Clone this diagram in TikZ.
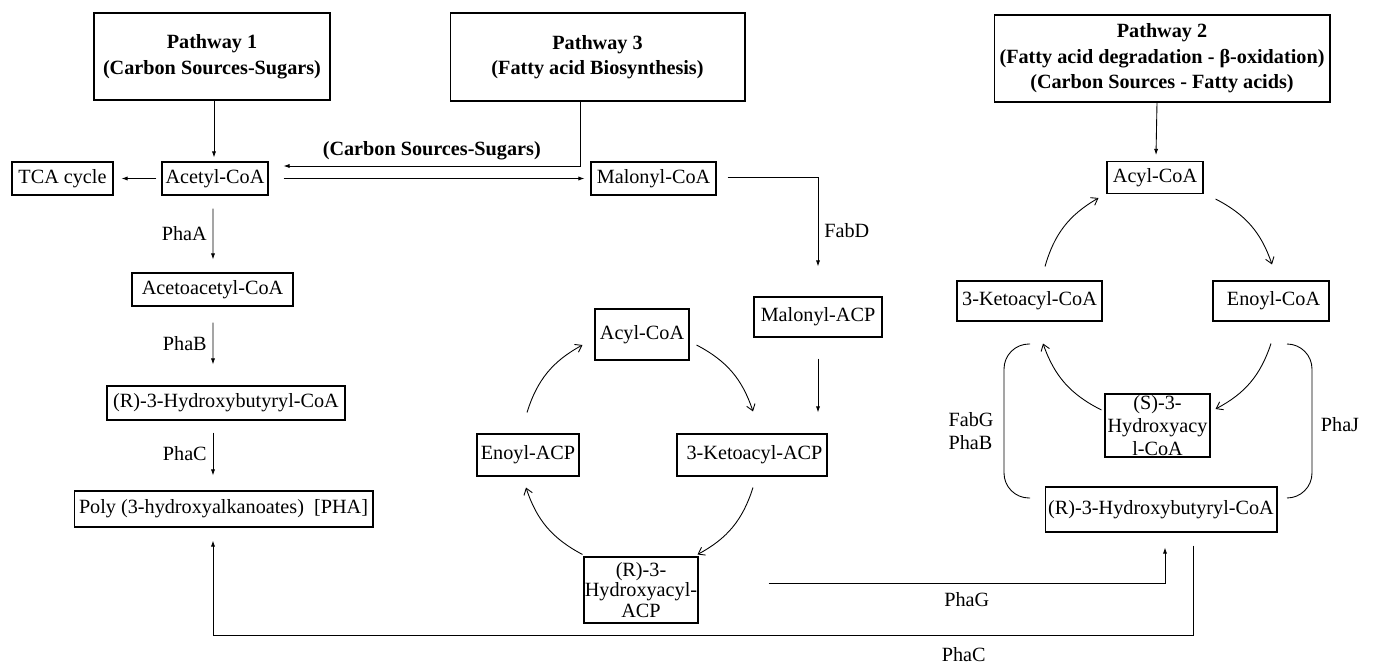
\documentclass[tikz,border=0pt]{standalone}
\usepackage{fontspec}
\setmainfont{Liberation Serif}
\usetikzlibrary{arrows.meta,calc}

\newcommand{\molfont}{\fontsize{11.5}{13}\selectfont}

\begin{document}
\begin{tikzpicture}[x=0.02cm,y=-0.02cm,
    every node/.style={font=\molfont},
    mol/.style={draw, line width=0.6pt, inner sep=0pt, align=center},
    head/.style={mol, font=\fontsize{11.5}{14.5}\selectfont\bfseries},
    flow/.style={line width=0.5pt, -{Latex[length=3.5pt,width=2.4pt]}},
    cyc/.style={line width=0.5pt, -{Straight Barb[length=3.5pt,width=5pt]}, bend left=22},
    curl/.style={line width=0.5pt, rounded corners=0.5cm}]
\useasboundingbox (0,0) rectangle (1373,666);

    % pathway headers
    \node[head, minimum width=4.72cm, minimum height=1.74cm] (pw1) at (212,56.5)
        {Pathway 1\\(Carbon Sources-Sugars)};
    \node[head, minimum width=5.9cm, minimum height=1.76cm] (pw3) at (597.5,57)
        {Pathway 3\\(Fatty acid Biosynthesis)};
    \node[head, minimum width=6.72cm, minimum height=1.74cm] (pw2) at (1162,58.5)
        {Pathway 2\\(Fatty acid degradation - β-oxidation)\\(Carbon Sources - Fatty acids)};

    % pathway 1
    \node[mol, minimum width=2.02cm, minimum height=0.66cm] (tca) at (62.5,178.5) {TCA cycle};
    \node[mol, minimum width=2.12cm, minimum height=0.66cm] (acetyl) at (215,178.5) {Acetyl-CoA};
    \node[mol, minimum width=3.22cm, minimum height=0.66cm] (aceto) at (212.5,289.5) {Acetoacetyl-CoA};
    \node[mol, minimum width=4.76cm, minimum height=0.68cm] (rhbL) at (226,403) {(R)-3-Hydroxybutyryl-CoA};
    \node[mol, minimum width=5.98cm, minimum height=0.72cm] (poly) at (223.5,509)
        {Poly (3-hydroxyalkanoates)\ \ [PHA]};

    % pathway 3
    \node[mol, minimum width=2.5cm, minimum height=0.66cm] (malcoa) at (653.5,178.5) {Malonyl-CoA};
    \node[mol, minimum width=2.56cm, minimum height=0.8cm] (malacp) at (818,317) {Malonyl-ACP};
    \node[mol, minimum width=1.88cm, minimum height=1.02cm] (acylM) at (642,334.5) {Acyl-CoA};
    \node[mol, minimum width=2.04cm, minimum height=0.84cm] (enoylacp) at (528,455) {Enoyl-ACP};
    \node[mol, minimum width=3.0cm, minimum height=0.84cm] (ketoacp) at (752,455) {\ 3-Ketoacyl-ACP};
    \node[mol, minimum width=2.28cm, minimum height=1.32cm, font=\fontsize{11.5}{11.8}\selectfont]
        (rhaacp) at (641,590) {(R)-3-\\Hydroxyacyl-\\ACP};

    % pathway 2
    \node[mol, minimum width=1.92cm, minimum height=0.64cm] (acylR) at (1155,177.5) {Acyl-CoA};
    \node[mol, minimum width=2.9cm, minimum height=0.8cm] (ketocoa) at (1029.5,301) {3-Ketoacyl-CoA};
    \node[mol, minimum width=2.32cm, minimum height=0.8cm] (enoylcoa) at (1271,301) {\ Enoyl-CoA};
    \node[mol, minimum width=2.1cm, minimum height=1.26cm, font=\fontsize{11.5}{13.2}\selectfont]
        (shacoa) at (1157.5,425.5) {(S)-3-\\Hydroxyacy\\l-CoA};
    \node[mol, minimum width=4.64cm, minimum height=0.9cm] (rhbR) at (1161,509.5) {(R)-3-Hydroxybutyryl-CoA};

    % straight steps
    \draw[flow] ($(pw1.south)+(2,0)$) -- ($(acetyl.north)+(-1,-4)$);
    \draw[flow] ($(acetyl.west)+(-5,0)$) -- ($(tca.east)+(8,0)$);
    \draw[flow] ($(pw3.south)+(-17.5,0)$) |- ($(acetyl.east)+(15,-12.5)$)
        node[pos=0.75, above, font=\fontsize{11.5}{13}\selectfont\bfseries] {(Carbon Sources-Sugars)};
    \draw[flow] ($(acetyl.east)+(15,0)$) -- ($(malcoa.west)+(-6,0)$);
    \draw[flow] ($(acetyl.south)+(-2,13)$) -- ($(aceto.north)+(0.5,-13)$) node[midway, left] {PhaA};
    \draw[flow] ($(aceto.south)+(0.5,16)$) -- ($(rhbL.north)+(-13,-21)$) node[midway, left] {PhaB};
    \draw[flow] ($(rhbL.south)+(-13,12)$) -- ($(poly.north)+(-10.5,-15)$) node[midway, left] {PhaC};
    \draw[flow] ($(malcoa.east)+(11,-1.5)$) -| ($(malacp.north)+(0,-30)$) node[pos=0.8, right] {FabD};
    \draw[flow] ($(malacp.south)+(0,21)$) -- ($(ketoacp.north)+(66,-21)$);
    \draw[flow] ($(pw2.south)+(-5,0)$) -- ($(acylR.north)+(1,-6)$);

    % fatty acid synthesis cycle
    \draw[cyc] ($(acylM.east)+(7,10.5)$) to ($(ketoacp.north)+(1,-22)$);
    \draw[cyc] ($(ketoacp.south)+(1,11)$) to ($(rhaacp.north east)+(-1,-2)$);
    \draw[cyc] ($(rhaacp.north west)+(-1,-2)$) to ($(enoylacp.south)+(-2,11)$);
    \draw[cyc] ($(enoylacp.north)+(-1,-21)$) to ($(acylM.west)+(-12,10.5)$);

    % beta-oxidation cycle
    \draw[cyc] ($(ketocoa.north)+(15.5,-14)$) to ($(acylR.west)+(-8,20.5)$);
    \draw[cyc] ($(acylR.east)+(12,21.5)$) to ($(enoylcoa.north)+(1,-16)$);
    \draw[cyc] ($(enoylcoa.south)+(0,22)$) to ($(shacoa.east)+(5,-16.5)$);
    \draw[cyc] ($(shacoa.west)+(-3,-15.5)$) to ($(ketocoa.south)+(13.5,22)$);

    % side routes to (R)-3-hydroxybutyryl-CoA
    \draw[curl] (1030,344) -- (1004,344) -- (1004,498) -- (1030,498);
    \draw[curl] (1287,344) -- (1312,344) -- (1312,498) -- (1287,498);
    \node[align=left] (fabg) at (971,431) {FabG\\PhaB};
    \node (phaj) at (1340,425) {PhaJ};

    % PhaG and PhaC links
    \draw[flow] ($(rhaacp.east)+(70,-7)$) -| ($(rhbR.south)+(4,15)$)
        node[pos=0.25, below, yshift=-2pt] {PhaG};
    \draw[flow] ($(rhbR.south)+(32,13)$) -- ++(0,90) -| ($(poly.south)+(-10.5,13)$)
        node[pos=0.117, below, yshift=-3pt] {PhaC};
\end{tikzpicture}
\end{document}
